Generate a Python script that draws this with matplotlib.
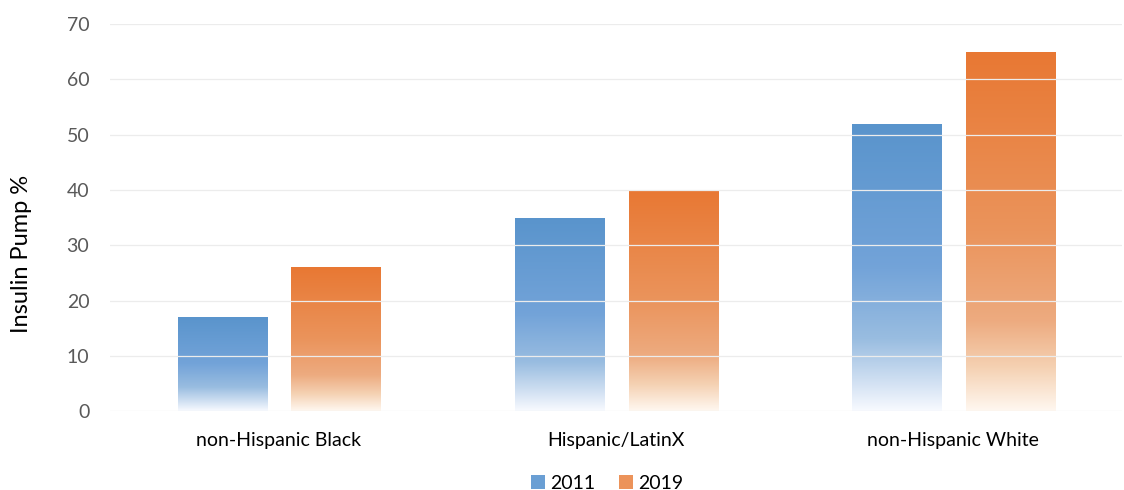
import numpy as np
import matplotlib
matplotlib.use('Agg')
import matplotlib.pyplot as plt
from matplotlib.colors import LinearSegmentedColormap
from matplotlib.patches import Patch

plt.rcParams['font.family'] = ['Lato', 'DejaVu Sans']

groups = ['non-Hispanic Black', 'Hispanic/LatinX', 'non-Hispanic White']
years = ['2011', '2019']
pump_2011 = [17, 35, 52]
pump_2019 = [26, 40, 65]

# gradients run from the top of each bar (0) down to its base (1)
blue_stops = [(0.0, (0.35, 0.58, 0.80)), (0.5, (0.45, 0.64, 0.85)),
              (0.75, (0.60, 0.74, 0.88)), (0.9, (0.82, 0.88, 0.95)),
              (1.0, (0.97, 0.98, 1.0))]
orange_stops = [(0.0, (0.91, 0.47, 0.20)), (0.5, (0.92, 0.58, 0.36)),
                (0.75, (0.93, 0.67, 0.50)), (0.88, (0.96, 0.82, 0.70)),
                (1.0, (1.0, 0.97, 0.94))]
cmaps = [LinearSegmentedColormap.from_list('b', blue_stops),
         LinearSegmentedColormap.from_list('o', orange_stops)]

fig = plt.figure(figsize=(11.24, 4.9), dpi=100)
ax = fig.add_axes([0.098, 0.161, 0.900, 0.790])

x = np.arange(len(groups))
w = 0.265
offs = [-0.167, 0.17]
grad = np.linspace(0, 1, 256).reshape(-1, 1)

for vals, off, cm in zip([pump_2011, pump_2019], offs, cmaps):
    bars = ax.bar(x + off, vals, w, facecolor='none', edgecolor='none', zorder=2)
    for b in bars:
        bx, bw, bh = b.get_x(), b.get_width(), b.get_height()
        im = ax.imshow(grad, cmap=cm, aspect='auto', extent=[bx, bx + bw, 0, bh],
                       origin='upper', zorder=2, interpolation='bilinear')
        im.set_clip_path(b)

ax.set_xlim(-0.5, 2.5)
ax.set_ylim(0, 70)
ax.set_yticks(range(0, 71, 10))
ax.set_xticks(x)
ax.set_xticklabels(groups)
ax.yaxis.grid(True, color='#ECECEC', lw=0.9, zorder=3)
ax.set_axisbelow(False)
for s in ax.spines.values():
    s.set_visible(False)
ax.tick_params(axis='both', length=0, labelsize=14, colors='#595959')
ax.tick_params(axis='x', colors='black', pad=15)
ax.tick_params(axis='y', pad=15)
ax.set_ylabel('Insulin Pump %', fontsize=17)
ax.yaxis.set_label_coords(-0.077, 0.405)

handles = [Patch(facecolor='#6A9FD4'), Patch(facecolor='#EC935A')]
fig.legend(handles, years, loc='lower center', bbox_to_anchor=(0.54, -0.04), ncol=2,
           frameon=False, fontsize=14, handlelength=0.75, handleheight=0.75,
           handletextpad=0.25, columnspacing=1.2)

fig.savefig('out.png', dpi=100)
